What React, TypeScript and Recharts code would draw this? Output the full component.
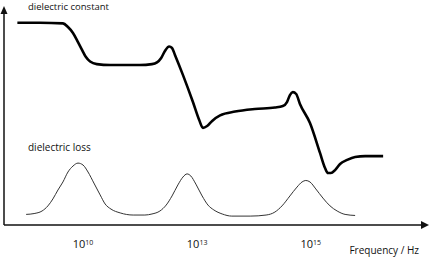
import { LineChart, Line, XAxis, YAxis, Label, ReferenceDot } from 'recharts';

// schematic frequency position (0-100 along the axis) and relative magnitude (0-100)
const constantPos = [
  3.2, 8.6, 14.1, 15.3, 16.5, 17.7, 18.7, 19.6, 20.6, 22.2, 25.4, 32.5, 35.4, 36.6, 37.6, 38.5,
  39.5, 40.2, 40.9, 42.8, 45.2, 46.7, 47.6, 48.6, 49.8, 51.7, 55.3, 60.0, 64.8, 66.7, 67.7, 68.4,
  69.1, 69.9, 70.8, 73.2, 75.6, 76.8, 77.5, 78.2, 79.2, 80.4, 82.1, 84.0, 86.4, 90.7,
];
const constantValues = [
  95.4, 95.4, 95.1, 93.4, 90.6, 86.3, 82.5, 79.2, 77.1, 75.9, 75.5, 75.5, 75.9, 76.7, 78.8, 82.1,
  84.2, 83.5, 80.2, 70.8, 58.0, 49.5, 45.8, 46.7, 49.1, 51.7, 53.5, 54.7, 55.4, 56.1, 58.0, 61.3,
  62.7, 61.8, 57.1, 48.1, 34.0, 26.9, 24.5, 24.5, 25.9, 28.8, 30.7, 32.1, 32.5, 32.5,
];

const lossPos = [
  5.3, 7.2, 9.1, 10.5, 11.7, 12.9, 14.1, 15.3, 16.5, 17.7, 18.9, 20.1, 21.5, 23.0, 24.2, 25.6,
  27.8, 30.9, 33.7, 35.4, 37.3, 38.8, 40.2, 41.6, 42.8, 43.8, 44.7, 45.9, 47.4, 48.8, 50.2, 52.2,
  54.5, 58.9, 62.7, 64.8, 66.5, 68.4, 70.1, 71.3, 72.2, 73.2, 74.6, 76.3, 78.0, 79.7, 81.6, 84.0,
];
const lossValues = [
  5.0, 5.4, 6.6, 9.0, 12.3, 16.5, 20.3, 25.0, 27.8, 29.2, 28.3, 25.0, 19.8, 14.2, 9.9, 7.5,
  5.7, 4.7, 4.7, 5.2, 6.6, 9.4, 13.7, 18.9, 22.6, 24.1, 23.1, 19.3, 13.7, 9.4, 7.1, 5.2,
  4.2, 4.2, 4.7, 6.1, 9.0, 13.7, 17.9, 20.3, 21.0, 20.3, 17.0, 12.7, 9.0, 6.6, 5.0, 4.5,
];

const tickPositions = [18.9, 46.2, 73.4];
const tickExponents = ['10', '13', '15'];

const constantData = constantPos.map((x, i) => ({ x, y: constantValues[i] }));
const lossData = lossPos.map((x, i) => ({ x, y: lossValues[i] }));

const FONT = '"Open Sans", sans-serif';
const INK = '#111';

function FreqTick({ x, y, payload }: any) {
  const idx = tickPositions.indexOf(payload.value);
  return (
    <text x={x} y={y + 23} textAnchor="middle" fill={INK} fontFamily={FONT}>
      <tspan fontSize={11}>10</tspan>
      <tspan fontSize={7} dy={-3.5}>{tickExponents[idx]}</tspan>
    </text>
  );
}

// arrow heads at the ends of the axis lines
const rightArrow = (p: any) => (
  <path d={`M${p.cx - 1},${p.cy - 4} L${p.cx + 7},${p.cy} L${p.cx - 1},${p.cy + 4} Z`} fill={INK} />
);
const upArrow = (p: any) => (
  <path d={`M${p.cx - 3.5},${p.cy + 1} L${p.cx},${p.cy - 7} L${p.cx + 3.5},${p.cy + 1} Z`} fill={INK} />
);

export default function App() {
  return (
    <div style={{ position: 'absolute', left: 0, top: 0, background: '#fff' }}>
      <LineChart width={429} height={257} margin={{ top: 13, right: 7, left: 0, bottom: 0 }}>
        <XAxis
          type="number"
          dataKey="x"
          domain={[0, 100]}
          ticks={tickPositions}
          tick={<FreqTick />}
          tickLine={false}
          tickSize={0}
          tickMargin={0}
          height={32}
          axisLine={{ stroke: INK, strokeWidth: 1.5 }}
          allowDataOverflow
        >
          <Label
            value="Frequency / Hz"
            position="insideBottomRight"
            offset={3}
            fill={INK}
            fontSize={10}
            fontFamily={FONT}
          />
        </XAxis>
        <YAxis
          type="number"
          domain={[0, 100]}
          width={4}
          tick={false}
          tickLine={false}
          axisLine={{ stroke: INK, strokeWidth: 1.5 }}
          allowDataOverflow
        />
        <Line
          data={constantData}
          dataKey="y"
          type="monotone"
          stroke="#000"
          strokeWidth={2.6}
          dot={false}
          activeDot={false}
          isAnimationActive={false}
        />
        <Line
          data={lossData}
          dataKey="y"
          type="monotone"
          stroke="#333"
          strokeWidth={1}
          dot={false}
          activeDot={false}
          isAnimationActive={false}
        />
        <ReferenceDot x={100} y={0} ifOverflow="visible" shape={rightArrow} />
        <ReferenceDot x={0} y={100} ifOverflow="visible" shape={upArrow} />
        <text x={28} y={10} fontSize={9.5} fontFamily={FONT} fill={INK}>
          dielectric constant
        </text>
        <text x={28} y={151} fontSize={10} fontFamily={FONT} fill={INK}>
          dielectric loss
        </text>
      </LineChart>
    </div>
  );
}
